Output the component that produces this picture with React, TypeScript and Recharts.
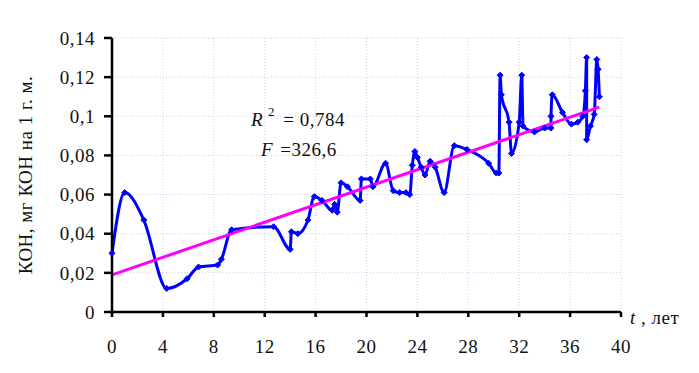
import React from "react";
import {
  LineChart,
  Line,
  XAxis,
  YAxis,
  CartesianGrid,
  Customized,
} from "recharts";

// age, years
const years = [
  0, 1.0, 2.5, 4.3, 5.9, 6.8, 8.3, 8.6, 9.4, 12.7, 14.0, 14.1, 14.6, 15.4,
  15.9, 16.5, 17.3, 17.5, 17.7, 18.0, 18.5, 19.5, 19.6, 20.3, 20.5, 21.5, 22.1,
  22.6, 23.1, 23.4, 23.6, 23.8, 24.0, 24.3, 24.6, 25.0, 25.4, 26.1, 26.9, 27.9,
  29.6, 30.2, 30.4, 30.5, 30.6, 31.2, 31.4, 32.0, 32.2, 32.3, 33.2, 34.0, 34.5,
  34.5, 34.6, 35.4, 36.1, 36.6, 37.0, 37.2, 37.3, 37.3, 37.6, 37.9, 38.1, 38.2,
  38.3,
];

// КОН, mg per 1 g
const koh = [
  0.03, 0.061, 0.047, 0.012, 0.017, 0.023, 0.024, 0.027, 0.042, 0.0436, 0.032,
  0.041, 0.04, 0.047, 0.059, 0.057, 0.052, 0.055, 0.051, 0.066, 0.064, 0.057,
  0.068, 0.068, 0.064, 0.076, 0.062, 0.061, 0.061, 0.06, 0.075, 0.082, 0.079,
  0.074, 0.07, 0.077, 0.074, 0.061, 0.085, 0.083, 0.076, 0.071, 0.071, 0.121,
  0.111, 0.097, 0.081, 0.097, 0.121, 0.095, 0.092, 0.094, 0.094, 0.1, 0.111,
  0.102, 0.096, 0.097, 0.1, 0.113, 0.13, 0.088, 0.095, 0.101, 0.129, 0.124,
  0.11,
];

// linear trend end points
const trendX = [0, 38.3];
const trendY = [0.019, 0.1047];

const xTicks = [0, 4, 8, 12, 16, 20, 24, 28, 32, 36, 40];
const yTicks = [0, 0.02, 0.04, 0.06, 0.08, 0.1, 0.12, 0.14];

const data = years.map((x, i) => ({ x, y: koh[i] }));
const trend = trendX.map((x, i) => ({ x, t: trendY[i] }));

const font = '"Times New Roman", "Liberation Serif", serif';

const Diamond = (props: any) => {
  const { cx, cy } = props;
  if (cx == null || cy == null) return null;
  const s = 3;
  return (
    <path
      d={`M${cx},${cy - s}L${cx + s},${cy}L${cx},${cy + s}L${cx - s},${cy}Z`}
      fill="#0000ff"
      stroke="#0000ff"
    />
  );
};

const Texts = () => (
  <g fontFamily={font} fontSize={19} letterSpacing={0.5} fill="#111">
    <text
      transform="rotate(-90 32 175)"
      x={32}
      y={175}
      textAnchor="middle"
    >
      КОН, мг КОН на 1 г. м.
    </text>
    <text x={630} y={324}>
      <tspan fontStyle="italic">t</tspan>
      <tspan> , лет</tspan>
    </text>
    <text x={251} y={126}>
      <tspan fontStyle="italic">R</tspan>
      <tspan fontSize={13} dy={-10} dx={5}>2</tspan>
      <tspan dy={10} dx={3}> = 0,784</tspan>
    </text>
    <text x={261} y={156}>
      <tspan fontStyle="italic">F</tspan>
      <tspan dx={2}> =326,6</tspan>
    </text>
  </g>
);

const tickStyle = {
  fill: "#111",
  fontSize: 19,
  fontFamily: font,
  letterSpacing: 0.5,
};

function App() {
  return (
    <div style={{ margin: -8 }}>
      <LineChart
        width={699}
        height={373}
        data={data}
        margin={{ top: 38, right: 78, left: 0, bottom: 0 }}
      >
        <CartesianGrid
          stroke="#ccccf0"
          strokeDasharray="1 2"
          horizontalValues={yTicks}
          verticalValues={xTicks}
        />
        <XAxis
          dataKey="x"
          type="number"
          domain={[0, 40]}
          ticks={xTicks}
          height={61}
          stroke="#000"
          strokeWidth={2.5}
          tickSize={5}
          tickMargin={23}
          tick={tickStyle}
        />
        <YAxis
          type="number"
          domain={[0, 0.14]}
          ticks={yTicks}
          width={112}
          stroke="#000"
          strokeWidth={2.5}
          tickSize={8}
          tickMargin={9}
          tickFormatter={(v: number) => String(v).replace(".", ",")}
          tick={tickStyle}
        />
        <Line
          dataKey="y"
          type="monotone"
          stroke="#0000ff"
          strokeWidth={3}
          dot={<Diamond />}
          isAnimationActive={false}
        />
        <Line
          data={trend}
          dataKey="t"
          type="linear"
          stroke="#ff00ff"
          strokeWidth={3}
          dot={false}
          isAnimationActive={false}
        />
        <Customized component={Texts} />
      </LineChart>
    </div>
  );
}

export default App;
